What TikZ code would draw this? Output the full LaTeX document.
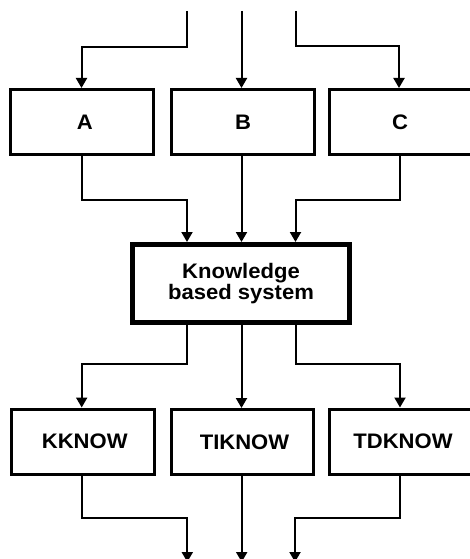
\documentclass[tikz,border=0pt]{standalone}
\usepackage{fontspec}
\setmainfont{Liberation Sans}[FakeStretch=1.05]
\usetikzlibrary{arrows.meta}
\begin{document}
\begin{tikzpicture}[x=1pt,y=-1pt,
  box/.style={draw, line width=3pt, minimum width=142.5pt, minimum height=65pt, inner sep=0pt,
    font=\fontsize{21}{21}\selectfont\bfseries},
  bigbox/.style={draw, line width=5pt, minimum width=217pt, minimum height=78pt, inner sep=0pt, align=center,
    font=\fontsize{21}{21}\selectfont\bfseries},
  conn/.style={line width=2pt, -{Triangle[length=10pt,width=11pt]}},
  ]
\useasboundingbox (0,0) rectangle (470,559);
% input coordinates
\coordinate (inL) at (187,11);
\coordinate (inM) at (241.5,11);
\coordinate (inR) at (295.5,11);
\coordinate (bL1) at (187,47);
\coordinate (bR1) at (295.5,46.5);
% row 1 boxes
\node[box] (A) at (81.75,122) {\hspace*{6pt}A};
\node[box] (B) at (243,122) {B};
\node[box] (C) at (401,122) {\hspace*{-2pt}C};
% central box
\node[bigbox] (K) at (241,283.5) {Knowledge\\based system};
% row 2 boxes
\node[box] (KK) at (82.75,441.5) {\hspace*{4pt}KKNOW};
\node[box] (TI) at (242.5,442) {\hspace*{4pt}TIKNOW};
\node[box] (TD) at (401,441.5) {\hspace*{4pt}TDKNOW};
% bends
\coordinate (m1) at (81.5,200);
\coordinate (m2) at (400,200);
\coordinate (kL) at (187,0);
\coordinate (kR) at (295.5,0);
\coordinate (d1) at (187,363.5);
\coordinate (d2) at (295.5,363.5);
\coordinate (e1) at (81.7,518.3);
\coordinate (e2) at (400,518.3);
\coordinate (outL) at (187.3,562);
\coordinate (outM) at (241.7,562);
\coordinate (outR) at (295,562);
% top inputs
\draw[conn] (inL) -- (bL1) -| (A.north -| 81.5,0);
\draw[conn] (inM) -- (inM |- B.north);
\draw[conn] (inR) -- (bR1) -| (C.north -| 399,0);
% row 1 to KBS
\draw[conn] (A.south -| m1) |- (m1) -| (K.north -| kL);
\draw[conn] (B.south -| inM) -- (inM |- K.north);
\draw[conn] (C.south -| m2) |- (m2) -| (K.north -| kR);
% KBS to row 2
\draw[conn] (K.south -| d1) -- (d1) -| (KK.north -| e1);
\draw[conn] (K.south -| inM) -- (inM |- TI.north);
\draw[conn] (K.south -| d2) -- (d2) -| (TD.north -| e2);
% outputs
\draw[conn] (KK.south -| e1) -- (e1) -| (outL);
\draw[conn] (TI.south -| outM) -- (outM);
\draw[conn] (TD.south -| e2) -- (e2) -| (outR);
\end{tikzpicture}
\end{document}
